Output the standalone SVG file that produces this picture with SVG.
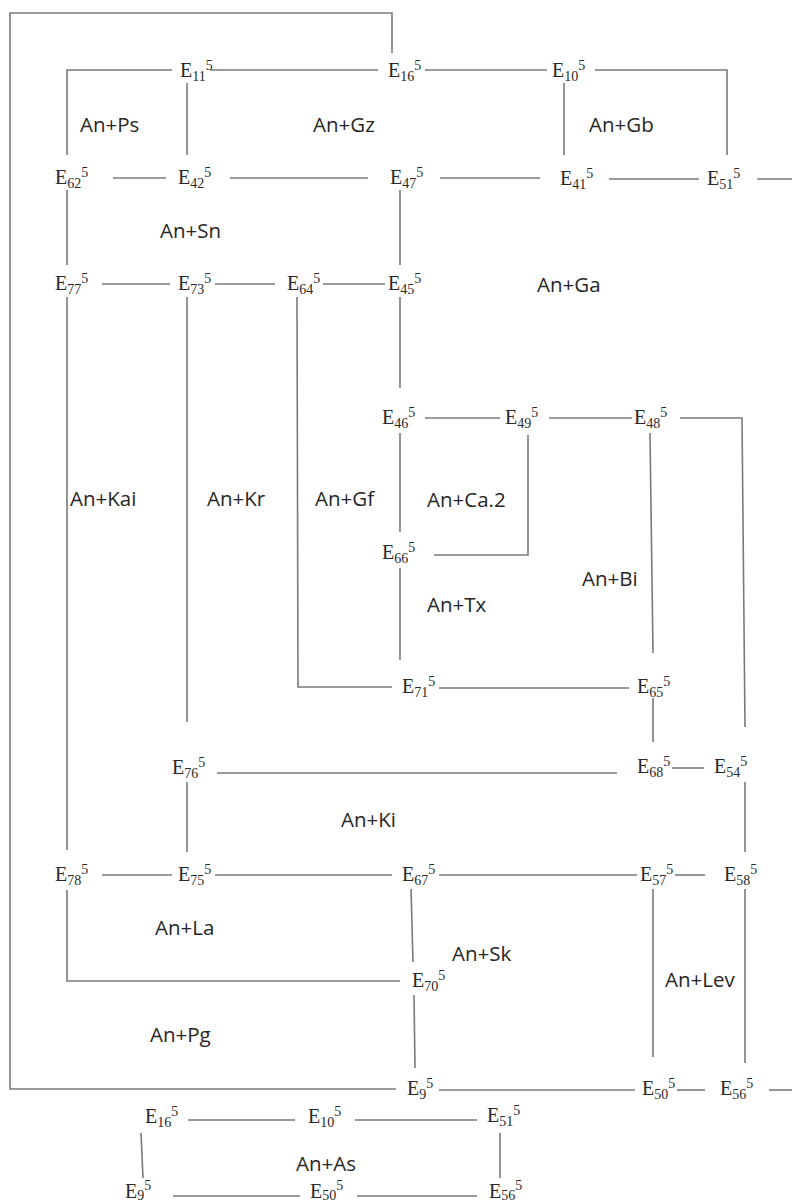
<svg xmlns="http://www.w3.org/2000/svg" width="792" height="1203" viewBox="0 0 792 1203">
<style>
.n{font-family:"Liberation Serif","Times New Roman",serif;font-size:20px;fill:#2a2a2a}
.s{font-size:14px}
.l{font-family:"Open Sans","Noto Sans",sans-serif;font-size:20.5px;fill:#262626}
.c path{fill:none;stroke:#7a7a7a;stroke-width:1.6}
</style>
<rect width="792" height="1203" fill="#ffffff"/>
<g id="connectors" class="c">
<path d="M392,53 V13 H10 V1089 H396"/>
<path d="M172,70 H67 V155"/>
<path d="M187,83 V155"/>
<path d="M210,70 H378"/>
<path d="M425,70 H547"/>
<path d="M595,70 H727 V155"/>
<path d="M564,83 V155"/>
<path d="M113,178 H166"/>
<path d="M230,178 H368"/>
<path d="M440,178 H540"/>
<path d="M609,179 H699"/>
<path d="M757,179 H792"/>
<path d="M67,190 V265"/>
<path d="M400,190 V265"/>
<path d="M102,284 H170"/>
<path d="M215,284 H275"/>
<path d="M323,284 H385"/>
<path d="M67,297 V850"/>
<path d="M187,297 V722"/>
<path d="M297,297 L298,687 H392"/>
<path d="M400,297 V388"/>
<path d="M425,418 H500"/>
<path d="M549,418 H632"/>
<path d="M680,418 H742 L745,727"/>
<path d="M400,433 V532"/>
<path d="M528,435 V555 H434"/>
<path d="M650,433 L653,653"/>
<path d="M400,568 V660"/>
<path d="M439,688 H629"/>
<path d="M653,698 V742"/>
<path d="M217,773 H617"/>
<path d="M672,768 H704"/>
<path d="M745,782 V852"/>
<path d="M187,782 V852"/>
<path d="M102,875 H172"/>
<path d="M215,875 H392"/>
<path d="M439,875 H637"/>
<path d="M675,875 H705"/>
<path d="M67,890 V981 H400"/>
<path d="M411,889 L413,962"/>
<path d="M414,995 L415,1068"/>
<path d="M653,889 V1057"/>
<path d="M745,889 V1063"/>
<path d="M439,1090 H635"/>
<path d="M677,1090 H705"/>
<path d="M769,1090 H792"/>
<path d="M188,1120 H295"/>
<path d="M355,1120 H477"/>
<path d="M141,1133 L143,1178"/>
<path d="M500,1133 V1178"/>
<path d="M173,1196 H300"/>
<path d="M357,1196 H477"/>
</g>
<g id="E11"><text class="n" x="180" y="77">E<tspan class="s" dy="4">11</tspan><tspan class="s" dy="-11">5</tspan></text></g>
<g id="E16"><text class="n" x="388" y="77">E<tspan class="s" dy="4">16</tspan><tspan class="s" dy="-11">5</tspan></text></g>
<g id="E10"><text class="n" x="552" y="77">E<tspan class="s" dy="4">10</tspan><tspan class="s" dy="-11">5</tspan></text></g>
<g id="E62"><text class="n" x="55" y="184">E<tspan class="s" dy="4">62</tspan><tspan class="s" dy="-11">5</tspan></text></g>
<g id="E42"><text class="n" x="178" y="184">E<tspan class="s" dy="4">42</tspan><tspan class="s" dy="-11">5</tspan></text></g>
<g id="E47"><text class="n" x="390" y="184">E<tspan class="s" dy="4">47</tspan><tspan class="s" dy="-11">5</tspan></text></g>
<g id="E41"><text class="n" x="560" y="185">E<tspan class="s" dy="4">41</tspan><tspan class="s" dy="-11">5</tspan></text></g>
<g id="E51"><text class="n" x="707" y="185">E<tspan class="s" dy="4">51</tspan><tspan class="s" dy="-11">5</tspan></text></g>
<g id="E77"><text class="n" x="55" y="290">E<tspan class="s" dy="4">77</tspan><tspan class="s" dy="-11">5</tspan></text></g>
<g id="E73"><text class="n" x="178" y="290">E<tspan class="s" dy="4">73</tspan><tspan class="s" dy="-11">5</tspan></text></g>
<g id="E64"><text class="n" x="287" y="290">E<tspan class="s" dy="4">64</tspan><tspan class="s" dy="-11">5</tspan></text></g>
<g id="E45"><text class="n" x="388" y="290">E<tspan class="s" dy="4">45</tspan><tspan class="s" dy="-11">5</tspan></text></g>
<g id="E46"><text class="n" x="382" y="424">E<tspan class="s" dy="4">46</tspan><tspan class="s" dy="-11">5</tspan></text></g>
<g id="E49"><text class="n" x="505" y="424">E<tspan class="s" dy="4">49</tspan><tspan class="s" dy="-11">5</tspan></text></g>
<g id="E48"><text class="n" x="634" y="424">E<tspan class="s" dy="4">48</tspan><tspan class="s" dy="-11">5</tspan></text></g>
<g id="E66"><text class="n" x="382" y="559">E<tspan class="s" dy="4">66</tspan><tspan class="s" dy="-11">5</tspan></text></g>
<g id="E71"><text class="n" x="402" y="693">E<tspan class="s" dy="4">71</tspan><tspan class="s" dy="-11">5</tspan></text></g>
<g id="E65"><text class="n" x="637" y="693">E<tspan class="s" dy="4">65</tspan><tspan class="s" dy="-11">5</tspan></text></g>
<g id="E76"><text class="n" x="172" y="774">E<tspan class="s" dy="4">76</tspan><tspan class="s" dy="-11">5</tspan></text></g>
<g id="E68"><text class="n" x="637" y="773">E<tspan class="s" dy="4">68</tspan><tspan class="s" dy="-11">5</tspan></text></g>
<g id="E54"><text class="n" x="714" y="773">E<tspan class="s" dy="4">54</tspan><tspan class="s" dy="-11">5</tspan></text></g>
<g id="E78"><text class="n" x="55" y="881">E<tspan class="s" dy="4">78</tspan><tspan class="s" dy="-11">5</tspan></text></g>
<g id="E75"><text class="n" x="178" y="881">E<tspan class="s" dy="4">75</tspan><tspan class="s" dy="-11">5</tspan></text></g>
<g id="E67"><text class="n" x="402" y="881">E<tspan class="s" dy="4">67</tspan><tspan class="s" dy="-11">5</tspan></text></g>
<g id="E57"><text class="n" x="640" y="881">E<tspan class="s" dy="4">57</tspan><tspan class="s" dy="-11">5</tspan></text></g>
<g id="E58"><text class="n" x="724" y="881">E<tspan class="s" dy="4">58</tspan><tspan class="s" dy="-11">5</tspan></text></g>
<g id="E70"><text class="n" x="412" y="987">E<tspan class="s" dy="4">70</tspan><tspan class="s" dy="-11">5</tspan></text></g>
<g id="E9"><text class="n" x="407" y="1095">E<tspan class="s" dy="4">9</tspan><tspan class="s" dy="-11">5</tspan></text></g>
<g id="E50"><text class="n" x="642" y="1095">E<tspan class="s" dy="4">50</tspan><tspan class="s" dy="-11">5</tspan></text></g>
<g id="E56"><text class="n" x="720" y="1095">E<tspan class="s" dy="4">56</tspan><tspan class="s" dy="-11">5</tspan></text></g>
<g id="E16b"><text class="n" x="145" y="1123">E<tspan class="s" dy="4">16</tspan><tspan class="s" dy="-11">5</tspan></text></g>
<g id="E10b"><text class="n" x="308" y="1123">E<tspan class="s" dy="4">10</tspan><tspan class="s" dy="-11">5</tspan></text></g>
<g id="E51b"><text class="n" x="487" y="1122">E<tspan class="s" dy="4">51</tspan><tspan class="s" dy="-11">5</tspan></text></g>
<g id="E9b"><text class="n" x="125" y="1198">E<tspan class="s" dy="2">9</tspan><tspan class="s" dy="-10">5</tspan></text></g>
<g id="E50b"><text class="n" x="310" y="1198">E<tspan class="s" dy="2">50</tspan><tspan class="s" dy="-10">5</tspan></text></g>
<g id="E56b"><text class="n" x="489" y="1198">E<tspan class="s" dy="2">56</tspan><tspan class="s" dy="-10">5</tspan></text></g>
<g id="labels">
<text class="l" x="80" y="132">An+Ps</text>
<text class="l" x="313" y="132">An+Gz</text>
<text class="l" x="589" y="132">An+Gb</text>
<text class="l" x="160" y="238">An+Sn</text>
<text class="l" x="537" y="292">An+Ga</text>
<text class="l" x="70" y="506">An+Kai</text>
<text class="l" x="207" y="506">An+Kr</text>
<text class="l" x="315" y="506">An+Gf</text>
<text class="l" x="427" y="507">An+Ca.2</text>
<text class="l" x="582" y="586">An+Bi</text>
<text class="l" x="427" y="612">An+Tx</text>
<text class="l" x="341" y="827">An+Ki</text>
<text class="l" x="155" y="935">An+La</text>
<text class="l" x="452" y="961">An+Sk</text>
<text class="l" x="665" y="987">An+Lev</text>
<text class="l" x="150" y="1042">An+Pg</text>
<text class="l" x="296" y="1171">An+As</text>
</g>
</svg>
